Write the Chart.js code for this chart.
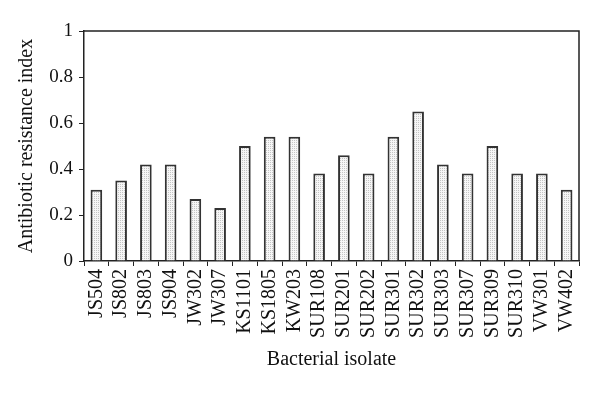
<!DOCTYPE html>
<html>
<head>
<meta charset="utf-8">
<script src="https://cdn.jsdelivr.net/npm/chart.js@4/dist/chart.umd.min.js"></script>
<style>
  html, body { margin: 0; padding: 0; background: #fff; }
  #wrap { width: 600px; height: 393px; }
</style>
</head>
<body>
<div id="wrap"><canvas id="chart" width="600" height="393"></canvas></div>
<script>
// bacterial isolates and their antibiotic resistance index
var isolates = ["JS504", "JS802", "JS803", "JS904", "JW302", "JW307", "KS1101", "KS1805", "KW203", "SUR108",
                "SUR201", "SUR202", "SUR301", "SUR302", "SUR303", "SUR307", "SUR309", "SUR310", "VW301", "VW402"];
var mar = [0.31, 0.35, 0.42, 0.42, 0.27, 0.23, 0.50, 0.54, 0.54, 0.38,
           0.46, 0.38, 0.54, 0.65, 0.42, 0.38, 0.50, 0.38, 0.38, 0.31];
var yTicks = [0, 0.2, 0.4, 0.6, 0.8, 1];
var yLabels = ["0", "0.2", "0.4", "0.6", "0.8", "1"];

// stippled fill like the printed figure
var pc = document.createElement("canvas");
pc.width = 2; pc.height = 2;
var px = pc.getContext("2d");
px.fillStyle = "#f6f6f6"; px.fillRect(0, 0, 2, 2);
px.fillStyle = "#c4c4c4"; px.fillRect(0, 0, 1, 1);
var dots = px.createPattern(pc, "repeat");

var serif = "'Liberation Serif', 'DejaVu Serif', serif";

var frame = {
  id: "frame",
  afterDatasetsDraw: function (chart) {
    var a = chart.chartArea, c = chart.ctx;
    c.save();
    c.strokeStyle = "#222";
    c.lineWidth = 1.5;
    c.beginPath();
    c.moveTo(a.left, a.top);
    c.lineTo(a.right, a.top);
    c.lineTo(a.right, a.bottom);
    c.stroke();
    c.restore();
  }
};

new Chart(document.getElementById("chart"), {
  type: "bar",
  data: {
    labels: isolates,
    datasets: [{
      label: "Antibiotic resistance index",
      data: mar,
      backgroundColor: dots,
      borderColor: "#333",
      borderWidth: 2,
      borderSkipped: "bottom",
      barPercentage: 0.47,
      categoryPercentage: 1
    }]
  },
  options: {
    responsive: false,
    animation: false,
    layout: { padding: { left: 0, right: 21, top: 31, bottom: 0 } },
    plugins: { legend: { display: false }, tooltip: { enabled: false } },
    scales: {
      x: {
        grid: { drawOnChartArea: false, drawTicks: true, tickLength: 5, color: "#222", offset: true },
        border: { display: true, color: "#222", width: 1.5 },
        ticks: {
          color: "#111", font: { family: serif, size: 20 },
          minRotation: 90, maxRotation: 90, padding: 3, autoSkip: false
        },
        title: {
          display: true, text: "Bacterial isolate", color: "#111",
          font: { family: serif, size: 20 }, padding: 21
        },
        afterFit: function (s) { s.height = 132; }
      },
      y: {
        min: 0, max: 1,
        afterBuildTicks: function (s) { s.ticks = yTicks.map(function (v) { return { value: v }; }); },
        grid: { drawOnChartArea: false, drawTicks: true, tickLength: 5, color: "#222" },
        border: { display: true, color: "#222", width: 1.5 },
        ticks: {
          color: "#111", font: { family: serif, size: 19 }, padding: 6,
          callback: function (v, i) { return yLabels[i]; }
        },
        title: {
          display: true, text: "Antibiotic resistance index", color: "#111",
          font: { family: serif, size: 20 }, padding: 15
        },
        afterFit: function (s) { s.width = 84; }
      }
    }
  },
  plugins: [frame]
});
</script>
</body>
</html>
